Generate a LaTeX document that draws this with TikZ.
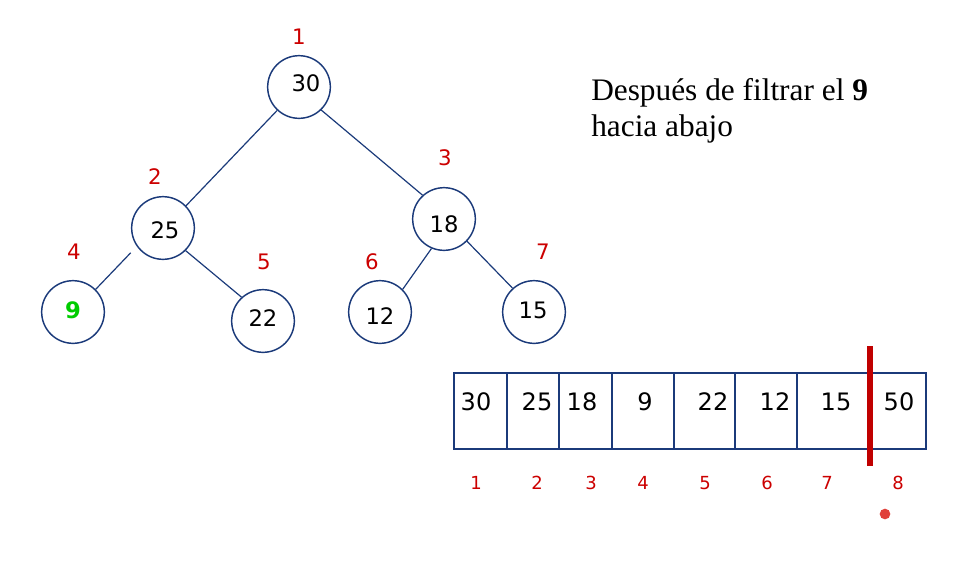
\documentclass[tikz,border=0pt]{standalone}
\usepackage{fontspec}
\setmainfont{Liberation Serif}
\newfontfamily\numfont{DejaVu Sans}
\definecolor{navy}{HTML}{1B3A7A}
\definecolor{lblred}{HTML}{CC0000}
\definecolor{barred}{HTML}{C00000}
\definecolor{dotred}{HTML}{E0403A}
\definecolor{hlgreen}{HTML}{00CC00}
\begin{document}
\begin{tikzpicture}[x=0.75pt,y=-0.75pt,
  circ/.style={draw=navy,line width=1.1pt,circle,minimum size=47pt,inner sep=0pt},
  edge/.style={draw=navy,line width=0.9pt},
  num/.style={font=\numfont\fontsize{17}{20}\selectfont,inner sep=0pt},
  anum/.style={font=\numfont\fontsize{18}{21}\selectfont,inner sep=0pt},
  idx/.style={font=\numfont\fontsize{16}{19}\selectfont,text=lblred,inner sep=0pt},
  aidx/.style={font=\numfont\fontsize{13.5}{16}\selectfont,text=lblred,inner sep=0pt},
  cell/.style={draw=navy,line width=1.1pt},
  caption/.style={font=\fontsize{23.5}{28}\selectfont,inner sep=0pt,anchor=base west}]
\useasboundingbox (0,0) rectangle (967,565);

% tree nodes
\node[circ] (n1) at (299,87) {};
\node[circ] (n2) at (163,228) {};
\node[circ] (n3) at (444,219) {};
\node[circ] (n4) at (73,312) {};
\node[circ] (n5) at (263,321) {};
\node[circ] (n6) at (380,312) {};
\node[circ] (n7) at (534,312) {};

% node values
\node[num] (v1) at (306,83) {30};
\node[num] (v2) at (165,230) {25};
\node[num] (v3) at (444,224) {18};
\node[num,text=hlgreen,font=\numfont\bfseries\fontsize{17}{20}\selectfont] (v4) at (73,310) {9};
\node[num] (v5) at (263,318) {22};
\node[num] (v6) at (380,316) {12};
\node[num] (v7) at (533,310) {15};

% edges
\draw[edge] (n1.227) -- (n2.44);
\draw[edge] (n1.314) -- (n3.132);
\draw[edge] ([shift={(-7,5)}]n2.218) -- (n4.45);
\draw[edge] (n2.315) -- (n5.132);
\draw[edge] (n3.247) -- (n6.45);
\draw[edge] (n3.316) -- (n7.132);

% tree indices
\node[idx] (i1) at (299,37) {1};
\node[idx] (i2) at (155,177) {2};
\node[idx] (i3) at (445,158) {3};
\node[idx] (i4) at (74,252) {4};
\node[idx] (i5) at (264,262) {5};
\node[idx] (i6) at (372,262) {6};
\node[idx] (i7) at (543,252) {7};

% caption
\node[caption] (t1) at (591,100) {Después de filtrar el \textbf{9}};
\node[caption] (t2) at (591,136) {hacia abajo};

% array
\draw[cell] (454,373) rectangle (926,449);
\foreach \x in {507,559,612,674,735,797}
  \draw[cell] (\x,373) -- (\x,449);
\node[anum] (a1) at (476,402) {30};
\node[anum] (a2) at (537,402) {25};
\node[anum] (a3) at (582,402) {18};
\node[anum] (a4) at (645,402) {9};
\node[anum] (a5) at (713,402) {22};
\node[anum] (a6) at (775,402) {12};
\node[anum] (a7) at (836,402) {15};
\node[anum] (a8) at (899,402) {50};

% red bar
\draw[barred,line width=5pt] (870,346) -- (870,466);

% array indices
\node[aidx] (b1) at (476,483) {1};
\node[aidx] (b2) at (537,483) {2};
\node[aidx] (b3) at (591,483) {3};
\node[aidx] (b4) at (643,483) {4};
\node[aidx] (b5) at (705,483) {5};
\node[aidx] (b6) at (767,483) {6};
\node[aidx] (b7) at (827,483) {7};
\node[aidx] (b8) at (898,483) {8};

% dot
\fill[dotred] (885,514) circle (4pt);
\end{tikzpicture}
\end{document}
